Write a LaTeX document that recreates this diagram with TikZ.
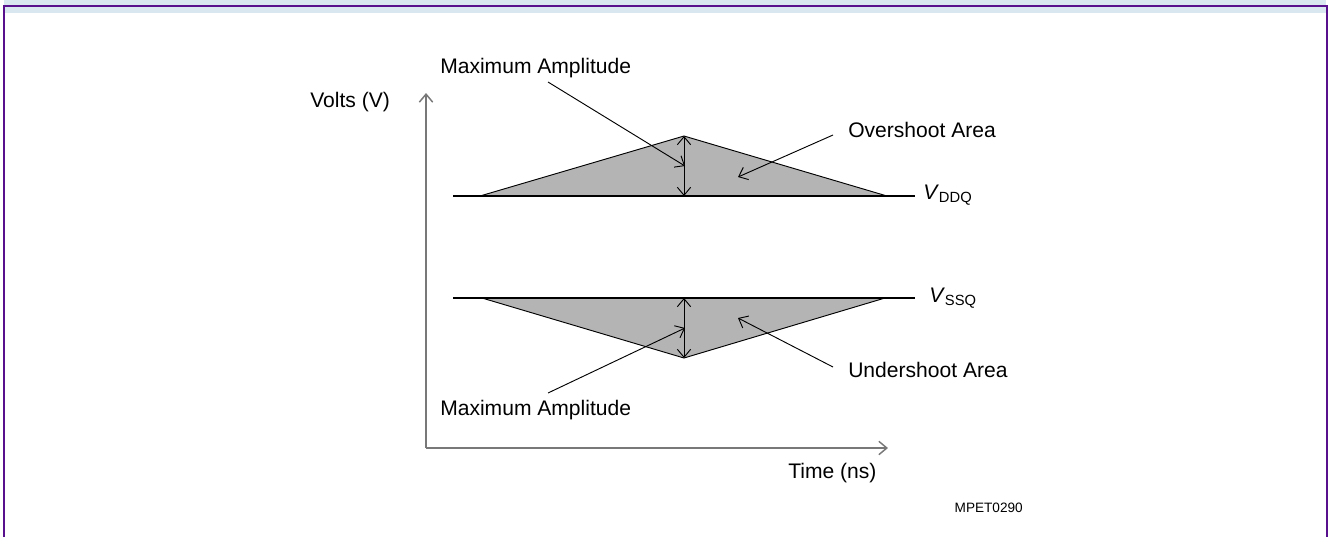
\documentclass[tikz,border=0pt]{standalone}
\usepackage{fontspec}
\setmainfont{Liberation Sans}
\usetikzlibrary{arrows.meta, positioning}
\definecolor{framepurple}{RGB}{88,16,140}
\definecolor{bandblue}{RGB}{217,232,240}
\definecolor{areagray}{RGB}{180,180,180}
\definecolor{axisgray}{RGB}{120,120,120}

\tikzset{
  label text/.style={font=\fontsize{15.8}{18}\selectfont, inner sep=0pt},
  pointer/.style={-{Straight Barb[length=6pt, width=10pt]}, line width=0.7pt},
  amplitude/.style={{Straight Barb[length=6pt, width=10pt]}-{Straight Barb[length=6pt, width=10pt]}, line width=0.7pt},
  rail/.style={line width=1.9pt},
  axis/.style={-{Straight Barb[length=6pt, width=10pt]}, axisgray, line width=1.1pt}
}

\begin{document}
\begin{tikzpicture}[x=0.75pt, y=-0.75pt]
  \useasboundingbox (0,0) rectangle (1330,537);
  % frame
  \fill[bandblue] (4,0) rectangle (1326,13);
  \draw[framepurple, line width=1.5pt] (4,537) -- (4,6) -- (1327,6) -- (1327,537);

  % axes
  \coordinate (origin) at (426,448);
  \coordinate (ytip) at (426,93);
  \coordinate (xtip) at (888,448);
  \draw[axis] (origin) -- (ytip);
  \draw[axis] (origin) -- (xtip);
  \node[label text, anchor=base west] (volts) at (310,107) {Volts (V)};
  \node[label text, anchor=base west] (time) at (788,478) {Time (ns)};

  % overshoot
  \coordinate (ddqL) at (453,196);
  \coordinate (ddqR) at (915,196);
  \coordinate (ovL) at (480,196);
  \coordinate (ovTop) at (684,136);
  \coordinate (ovBase) at (684,196);
  \coordinate (ovR) at (887,196);
  \filldraw[fill=areagray, draw=black, line width=0.7pt] (ovL) -- (ovTop) -- (ovR);
  \draw[rail] (ddqL) -- (ddqR);
  \draw[amplitude] (ovBase) -- (ovTop);
  \node[label text, anchor=base west] (vddq) at (923,199) {\textit{V}\textsubscript{DDQ}};

  % undershoot
  \coordinate (ssqL) at (453,298);
  \coordinate (ssqR) at (915,298);
  \coordinate (unL) at (482,298);
  \coordinate (unBot) at (684,358);
  \coordinate (unBase) at (684,298);
  \coordinate (unR) at (885,298);
  \filldraw[fill=areagray, draw=black, line width=0.7pt] (unL) -- (unBot) -- (unR);
  \draw[rail] (ssqL) -- (ssqR);
  \draw[amplitude] (unBot) -- (unBase);
  \node[label text, anchor=base west] (vssq) at (929,302) {\textit{V}\textsubscript{SSQ}};

  % callouts
  \node[label text, anchor=base west] (maxtop) at (440,73) {Maximum Amplitude};
  \node[label text, anchor=base west] (overarea) at (848,137) {Overshoot Area};
  \node[label text, anchor=base west] (maxbot) at (440,415) {Maximum Amplitude};
  \node[label text, anchor=base west] (underarea) at (848,377) {Undershoot Area};
  \coordinate (maxtopFrom) at (548,82);
  \coordinate (maxtopTo) at (685,166);
  \coordinate (overFrom) at (833,135);
  \coordinate (overTo) at (738,177);
  \coordinate (maxbotFrom) at (548,393);
  \coordinate (maxbotTo) at (685,328);
  \coordinate (underFrom) at (833,367);
  \coordinate (underTo) at (738,318);
  \draw[pointer] (maxtopFrom) -- (maxtopTo);
  \draw[pointer] (overFrom) -- (overTo);
  \draw[pointer] (maxbotFrom) -- (maxbotTo);
  \draw[pointer] (underFrom) -- (underTo);

  \node[font=\fontsize{10.2}{12}\selectfont, inner sep=0pt, anchor=base east] (figid) at (1023,512) {MPET0290};
\end{tikzpicture}
\end{document}
